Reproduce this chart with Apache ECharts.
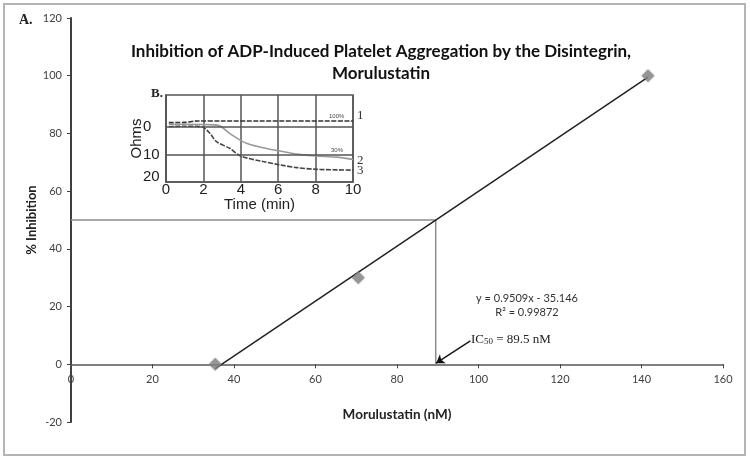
<!DOCTYPE html>
<html>
<head>
<meta charset="utf-8">
<script src="https://cdn.jsdelivr.net/npm/echarts@6/dist/echarts.min.js"></script>
<style>
  html, body { margin: 0; padding: 0; background: #fff; }
  #main { width: 750px; height: 460px; }
</style>
</head>
<body>
<div id="main"></div>
<script>
// main panel A: inhibition vs morulustatin
const doseInhibition = [[35.4, 0], [70.5, 30], [141.6, 100]];
const trendEnds = [[35.4, -1.5], [141.6, 99.5]];
const ic50Guide = [[0, 50], [89.5, 50], [89.5, 0]];
const arrowFromTo = [[98, 8.1], [89.6, 0.4]];
const yMin = -20, yMax = 120;

// inset B: aggregation traces (Ohms vs min)
const trace100 = [[0.15, -1.5], [1, -1.6], [1.7, -2.1], [3, -2.1], [5, -2.1], [7, -2.1], [10, -2.1]];
const trace30 = [[0.15, -0.8], [1, -0.9], [2, -0.8], [2.8, -0.5], [3.4, 2.4], [4.3, 6], [5.2, 7.6],
  [6.1, 8.8], [7, 9.9], [8, 10.6], [9.1, 11], [10, 11.8]];
const traceCtrl = [[0.15, 0], [1, -0.2], [1.9, 0], [2.35, 2.4], [2.7, 5.4], [3.4, 7.8], [4, 10.6],
  [5.2, 12.6], [6.1, 13.8], [7, 14.8], [8, 15.4], [10, 15.7]];
const insetYLabels = [0, 10, 20];
const insetGridLines = [0, 10];

const chart = echarts.init(document.getElementById('main'));
const sans = 'Lato';

// main grid box; x axis sits on y = 0
const gTop = 18, gBottom = 38;
const gH = 460 - gTop - gBottom;
const zeroOffset = -gH * (0 - yMin) / (yMax - yMin);

chart.setOption({
  animation: false,
  title: {
    text: 'Inhibition of ADP-Induced Platelet Aggregation by the Disintegrin,\nMorulustatin',
    left: 376, top: 35, textAlign: 'center',
    textStyle: { fontFamily: sans, fontWeight: 'bold', fontSize: 17, lineHeight: 22.5, color: '#111' }
  },
  grid: [
    { left: 71, right: 27, top: gTop, bottom: gBottom },
    { left: 166, top: 95, width: 187, height: 87, show: true, borderColor: '#555', borderWidth: 1.5, z: 3 }
  ],
  xAxis: [
    {
      type: 'value', gridIndex: 0, min: 0, max: 160, interval: 20,
      position: 'bottom', offset: zeroOffset,
      axisLine: { onZero: false, lineStyle: { color: '#808080', width: 2 } },
      axisTick: { show: true, length: 4, lineStyle: { color: '#444' } },
      axisLabel: { fontFamily: sans, fontSize: 11, color: '#404040', margin: 10 },
      splitLine: { show: false },
      name: 'Morulustatin (nM)', nameLocation: 'middle', nameGap: 43, nameMoveOverlap: false,
      nameTextStyle: { fontFamily: sans, fontWeight: 'bold', fontSize: 13.5, color: '#222' }
    },
    {
      type: 'value', gridIndex: 1, min: 0, max: 10, interval: 2,
      axisLine: { onZero: false, lineStyle: { color: '#555', width: 1.5 } },
      axisTick: { show: false },
      axisLabel: { fontFamily: 'Liberation Sans', fontSize: 15, color: '#222', margin: 0 },
      splitLine: { show: true, lineStyle: { color: '#555', width: 1.5 } },
      name: 'Time (min)', nameLocation: 'middle', nameGap: 15, nameMoveOverlap: false,
      nameTextStyle: { fontFamily: 'Liberation Sans', fontSize: 15, color: '#222' }
    }
  ],
  yAxis: [
    {
      type: 'value', gridIndex: 0, min: yMin, max: yMax, interval: 20,
      axisLine: { show: true, onZero: false, lineStyle: { color: '#404040', width: 2 } },
      axisTick: { show: true, length: 4, lineStyle: { color: '#404040' } },
      axisLabel: { fontFamily: sans, fontSize: 11, color: '#404040', margin: 9 },
      splitLine: { show: false },
      name: '% Inhibition', nameLocation: 'middle', nameGap: 33, nameRotate: 90, nameMoveOverlap: false,
      nameTextStyle: { fontFamily: sans, fontWeight: 'bold', fontSize: 13, color: '#222' }
    },
    {
      type: 'value', gridIndex: 1, inverse: true, min: -11.5, max: 20,
      axisLine: { show: true, onZero: false, lineStyle: { color: '#555', width: 1.5 } },
      axisTick: { show: false },
      axisLabel: {
        customValues: insetYLabels, fontFamily: 'Liberation Sans', fontSize: 15, color: '#222',
        align: 'left', margin: 23,
        formatter: v => (v === 20 ? '{up|20}' : String(v)),
        rich: { up: { fontFamily: 'Liberation Sans', fontSize: 15, color: '#222', padding: [0, 0, 10, 0] } }
      },
      splitLine: { show: false },
      name: 'Ohms', nameLocation: 'middle', nameGap: 22, nameRotate: 90, nameMoveOverlap: false,
      nameTextStyle: { fontFamily: 'Liberation Sans', fontSize: 15, color: '#222' }
    }
  ],
  series: [
    {
      type: 'line', xAxisIndex: 0, yAxisIndex: 0, data: ic50Guide, symbol: 'none',
      lineStyle: { color: '#8c8c8c', width: 1.5 }, z: 2
    },
    {
      type: 'line', xAxisIndex: 0, yAxisIndex: 0, data: trendEnds, symbol: 'none',
      lineStyle: { color: '#222', width: 1.5 }, z: 3,
      markLine: {
        silent: true, symbol: ['none', 'arrow'], symbolSize: 8,
        lineStyle: { color: '#111', width: 1.3, type: 'solid' },
        label: { show: false },
        data: [[{ coord: arrowFromTo[0] }, { coord: arrowFromTo[1] }]]
      }
    },
    {
      type: 'scatter', xAxisIndex: 0, yAxisIndex: 0, data: doseInhibition,
      symbol: 'diamond', symbolSize: 13,
      itemStyle: { color: '#8a8a8a', shadowBlur: 2, shadowColor: 'rgba(0,0,0,0.3)' }, z: 4
    },
    {
      type: 'line', xAxisIndex: 1, yAxisIndex: 1, data: trace30, symbol: 'none', smooth: 0.3,
      lineStyle: { color: '#9a9a9a', width: 1.6 }, z: 4,
      markLine: {
        silent: true, symbol: 'none', label: { show: false },
        lineStyle: { color: '#555', width: 1.5, type: 'solid' },
        data: insetGridLines.map(v => ({ yAxis: v }))
      }
    },
    {
      type: 'line', xAxisIndex: 1, yAxisIndex: 1, data: traceCtrl, symbol: 'none', smooth: 0.3,
      lineStyle: { color: '#444', width: 1.6, type: [5, 1.5] }, z: 4
    },
    {
      type: 'line', xAxisIndex: 1, yAxisIndex: 1, data: trace100, symbol: 'none', smooth: 0.3,
      lineStyle: { color: '#333', width: 1.6, type: [5, 1.5] }, z: 4
    }
  ],
  graphic: [
    { type: 'rect', shape: { x: 4, y: 4, width: 741, height: 451 }, style: { fill: 'none', stroke: '#b4b4b4', lineWidth: 2 } },
    { type: 'text', left: 19, top: 13, style: { text: 'A.', font: 'bold 14px "Liberation Serif"', fill: '#222' } },
    { type: 'text', left: 151, top: 87, style: { text: 'B.', font: 'bold 13px "Liberation Serif"', fill: '#222' } },
    { type: 'text', left: 329, top: 113, style: { text: '100%', font: '6px "Liberation Sans"', fill: '#444' } },
    { type: 'text', left: 331, top: 147, style: { text: '30%', font: '6px "Liberation Sans"', fill: '#444' } },
    { type: 'text', left: 357, top: 109, style: { text: '1', font: '13px "Liberation Serif"', fill: '#333' } },
    { type: 'text', left: 357, top: 154, style: { text: '2', font: '13px "Liberation Serif"', fill: '#333' } },
    { type: 'text', left: 357, top: 164, style: { text: '3', font: '13px "Liberation Serif"', fill: '#333' } },
    { type: 'text', x: 527, y: 298, style: { text: 'y = 0.9509x - 35.146', font: '11px Lato', fill: '#333', align: 'center', verticalAlign: 'middle' } },
    { type: 'text', x: 527, y: 312, style: { text: 'R² = 0.99872', font: '11px Lato', fill: '#333', align: 'center', verticalAlign: 'middle' } },
    {
      type: 'text', x: 471, y: 340,
      style: {
        text: '{a|IC}{b|50}{a| = 89.5 nM}', verticalAlign: 'middle',
        rich: {
          a: { fontFamily: 'Liberation Serif', fontSize: 13, fill: '#222', verticalAlign: 'bottom' },
          b: { fontFamily: 'Liberation Serif', fontSize: 9, fill: '#222', verticalAlign: 'bottom' }
        }
      }
    }
  ]
});
</script>
</body>
</html>
